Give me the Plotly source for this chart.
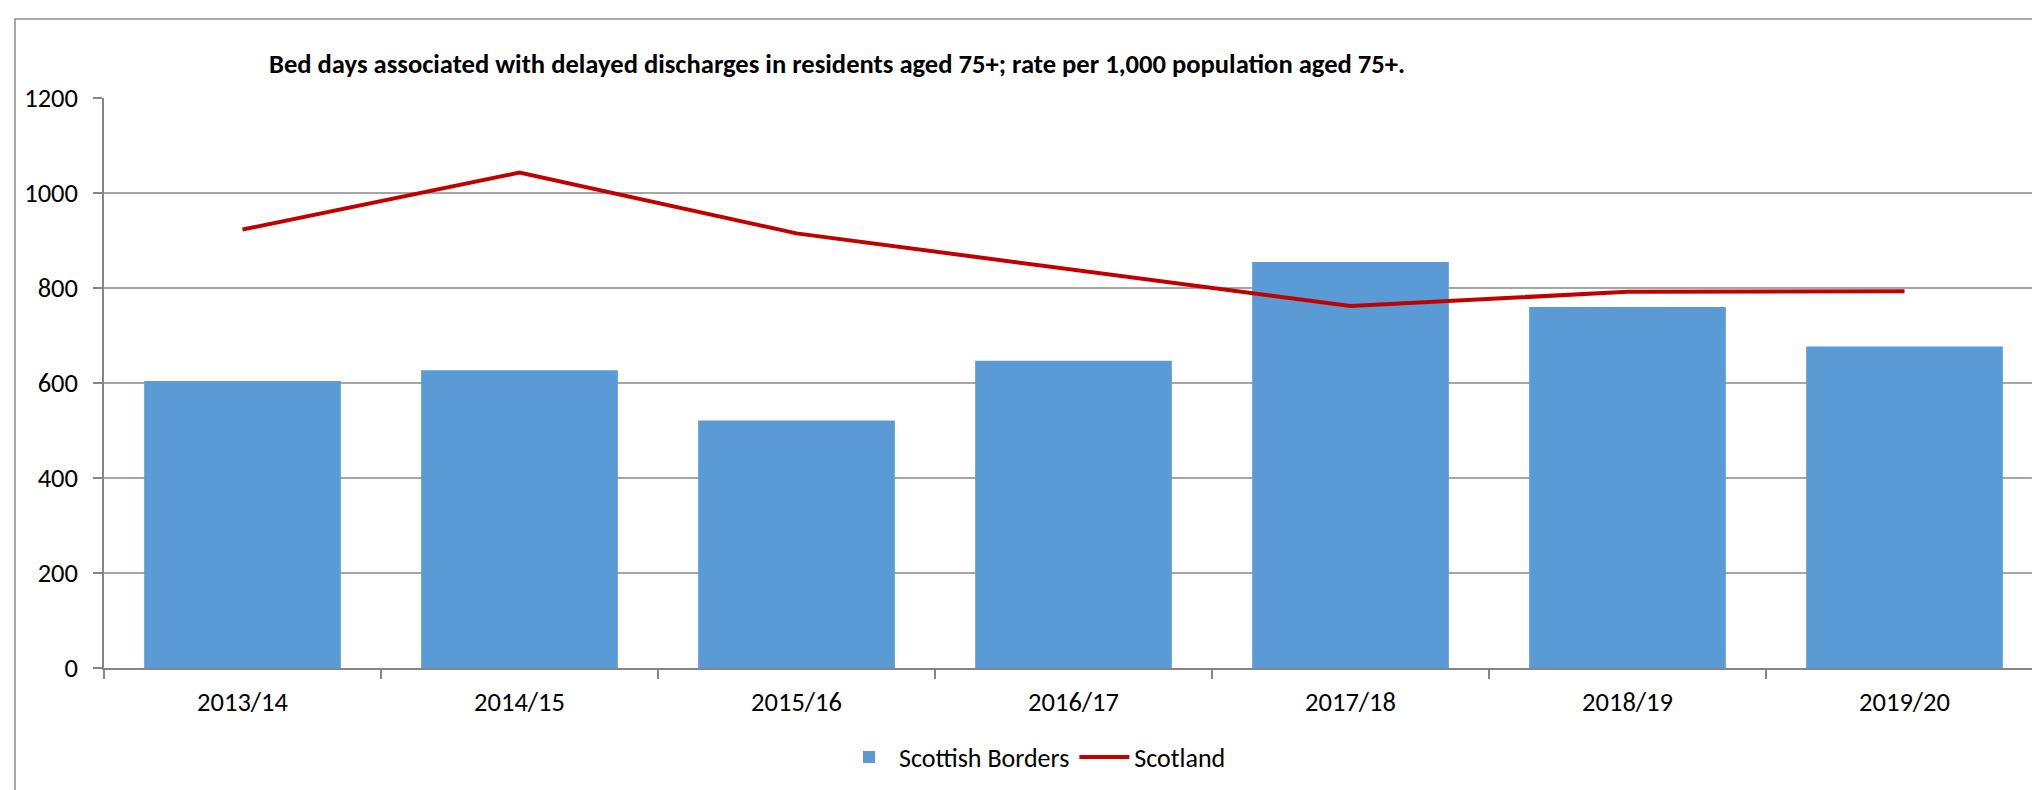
import plotly.graph_objects as go

categories = ["2013/14", "2014/15", "2015/16", "2016/17", "2017/18", "2018/19", "2019/20"]
borders = [604, 627, 521, 647, 855, 760, 677]
scotland = [923, 1043, 915, 839, 762, 792, 793]
y_ticks = [0, 200, 400, 600, 800, 1000, 1200]
title_text = "Bed days associated with delayed discharges in residents aged 75+; rate per 1,000 population aged 75+."

FONT = "Calibri, Carlito, 'Liberation Sans Narrow', 'Open Sans', sans-serif"
W, H = 2040, 790
ML, MR, MT, MB = 96, 5, 90, 130
pw = W - ML - MR
ph = H - MT - MB

fig = go.Figure()
fig.add_trace(go.Bar(x=categories, y=borders, name="Scottish Borders",
                     marker=dict(color="#5B9BD5", line=dict(width=0))))
fig.add_trace(go.Scatter(x=categories, y=scotland, name="Scotland", mode="lines",
                         line=dict(color="#C00000", width=4)))

def px_x(p):
    return (p - ML) / pw

def px_y(p):
    return (H - MB - p) / ph

fig.update_layout(
    width=W, height=H,
    margin=dict(l=ML, r=MR, t=MT, b=MB),
    paper_bgcolor="white", plot_bgcolor="white",
    font=dict(family=FONT, size=26, color="black"),
    bargap=0.29,
    showlegend=True,
    legend=dict(orientation="h", x=px_x(831), xanchor="left", y=px_y(749), yanchor="middle",
                font=dict(family=FONT, size=26, color="black"), bgcolor="rgba(0,0,0,0)",
                itemwidth=50, tracegroupgap=0),
    annotations=[dict(text="<b>" + title_text + "</b>", xref="paper", yref="paper",
                      x=px_x(829), y=px_y(56), xanchor="center", yanchor="middle",
                      showarrow=False, font=dict(family=FONT, size=26.6, color="black"))],
    shapes=[dict(type="rect", xref="paper", yref="paper",
                 x0=px_x(7), x1=px_x(2060), y0=px_y(810), y1=px_y(11),
                 line=dict(color="#8C8C8C", width=1.5), fillcolor="rgba(0,0,0,0)", layer="below")],
)
fig.update_xaxes(showline=True, linecolor="#868686", linewidth=1.5,
                 ticks="outside", tickson="boundaries", ticklen=9, tickcolor="#868686", tickwidth=1.5,
                 tickfont=dict(family=FONT, size=26.5, color="black"), ticklabelstandoff=9,
                 showgrid=False)
fig.update_yaxes(range=[0, 1200], tickvals=y_ticks, showline=True, linecolor="#868686", linewidth=1.5,
                 ticks="outside", ticklen=9, tickcolor="#868686", tickwidth=1.5,
                 showgrid=True, gridcolor="#A6A6A6", gridwidth=1.5, zeroline=False,
                 tickfont=dict(family=FONT, size=26.5, color="black"), ticklabelstandoff=10)

fig.write_html("out.html")
